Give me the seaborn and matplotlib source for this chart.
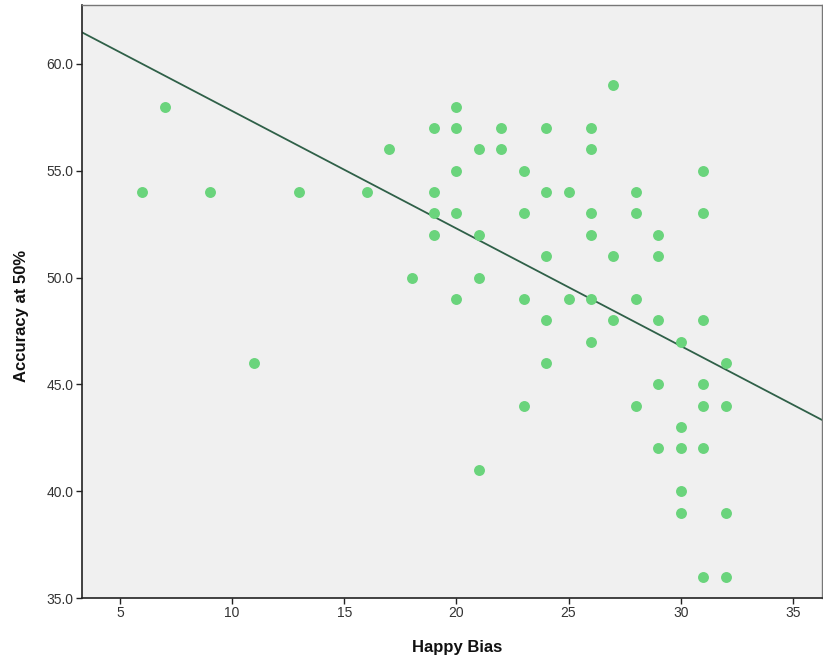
import matplotlib
matplotlib.use("Agg")
import matplotlib.pyplot as plt
import seaborn as sns
import pandas as pd

# Happy bias scores and the matching accuracy at 50% morph level
happy_bias = [
    6, 7, 9, 11, 13, 16, 17, 18,
    19, 19, 19, 19,
    20, 20, 20, 20, 20,
    21, 21, 21, 21,
    22, 22,
    23, 23, 23, 23,
    24, 24, 24, 24, 24,
    25, 25,
    26, 26, 26, 26, 26, 26,
    27, 27, 27,
    28, 28, 28, 28,
    29, 29, 29, 29, 29,
    30, 30, 30, 30, 30,
    31, 31, 31, 31, 31, 31, 31,
    32, 32, 32, 32,
]
accuracy = [
    54, 58, 54, 46, 54, 54, 56, 50,
    57, 54, 53, 52,
    58, 57, 55, 53, 49,
    56, 52, 50, 41,
    57, 56,
    55, 53, 49, 44,
    57, 54, 51, 48, 46,
    54, 49,
    57, 56, 53, 52, 49, 47,
    59, 51, 48,
    54, 53, 49, 44,
    52, 51, 48, 45, 42,
    47, 43, 42, 40, 39,
    55, 53, 48, 45, 44, 42, 36,
    46, 44, 39, 36,
]
# Fit line (total sample): accuracy = intercept + slope * happy bias
fit_intercept = 63.30
fit_slope = -0.550

x_ticks = [5, 10, 15, 20, 25, 30, 35]
y_ticks = [35.0, 40.0, 45.0, 50.0, 55.0, 60.0]

df = pd.DataFrame({"Happy Bias": happy_bias, "Accuracy at 50%": accuracy})

sns.set_theme(style="ticks")
plt.rcParams["font.family"] = ["Liberation Sans", "DejaVu Sans"]

fig = plt.figure(figsize=(8.23, 6.65), dpi=100)
ax = fig.add_axes([82 / 823, 67 / 665, 740 / 823, 593 / 665])
ax.set_facecolor("#F0F0F0")

sns.scatterplot(data=df, x="Happy Bias", y="Accuracy at 50%", ax=ax,
                color="#6AD47C", s=62, linewidth=0, zorder=3)
ax.axline((0, fit_intercept), slope=fit_slope, color="#2F6048",
          linewidth=1.3, zorder=2)

ax.set_xlim(3.31, 36.3)
ax.set_ylim(35.0, 62.76)
ax.set_xticks(x_ticks)
ax.set_yticks(y_ticks)
ax.set_xticklabels([str(t) for t in x_ticks])
ax.set_yticklabels([f"{t:.1f}" for t in y_ticks])

for side in ["left", "bottom"]:
    ax.spines[side].set_color("#222222")
    ax.spines[side].set_linewidth(1.2)
for side in ["top", "right"]:
    ax.spines[side].set_visible(True)
    ax.spines[side].set_color("#777777")
    ax.spines[side].set_linewidth(1.0)

ax.tick_params(axis="both", direction="out", length=4, width=1.0,
               color="#222222", labelsize=10, labelcolor="#333333", pad=2)
ax.set_xlabel("Happy Bias", fontsize=12, fontweight="bold", color="#111111")
ax.set_ylabel("Accuracy at 50%", fontsize=12, fontweight="bold", color="#111111")
ax.xaxis.set_label_coords((457 - 82) / 740, -(640 - 598) / 593)
ax.yaxis.set_label_coords(-(82 - 29) / 740, (598 - 316) / 593)

fig.savefig("out.png", dpi=100)
